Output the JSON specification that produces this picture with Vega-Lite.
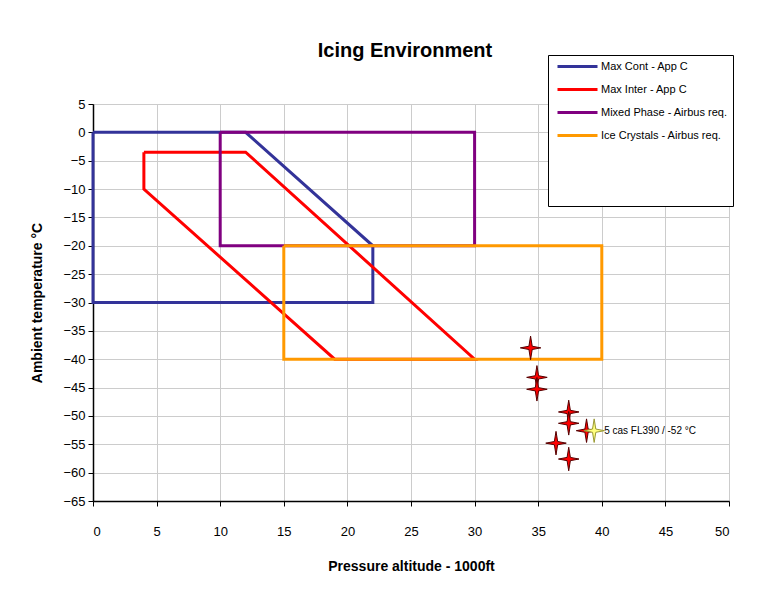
{
  "$schema": "https://vega.github.io/schema/vega-lite/v6.json",
  "width": 636,
  "height": 397,
  "autosize": {"type": "none"},
  "padding": {"left": 93, "top": 104, "right": 35, "bottom": 96},
  "background": "white",
  "title": {
    "text": "Icing Environment",
    "font": "Liberation Sans",
    "fontSize": 20,
    "fontWeight": "bold",
    "color": "#000000",
    "anchor": "middle",
    "offset": -6,
    "dx": -6
  },
  "config": {
    "view": {"stroke": "#333333", "strokeWidth": 1},
    "axis": {
      "labelFont": "Liberation Sans",
      "labelFontSize": 13,
      "labelColor": "#000000",
      "titleFont": "Liberation Sans",
      "titleFontSize": 14,
      "titleFontWeight": "bold",
      "titleColor": "#000000",
      "gridColor": "#cccccc",
      "gridWidth": 1,
      "domainColor": "#000000",
      "domainWidth": 1.5,
      "tickColor": "#000000",
      "tickSize": 5
    },
    "legend": {
      "labelFont": "Liberation Sans",
      "labelFontSize": 11,
      "labelColor": "#000000"
    }
  },
  "datasets": {
    "envelopes": [
      {"series": "Max Cont - App C", "order": 1, "alt": 0, "temp": 0},
      {"series": "Max Cont - App C", "order": 2, "alt": 12, "temp": 0},
      {"series": "Max Cont - App C", "order": 3, "alt": 22, "temp": -20},
      {"series": "Max Cont - App C", "order": 4, "alt": 22, "temp": -30},
      {"series": "Max Cont - App C", "order": 5, "alt": 0, "temp": -30},
      {"series": "Max Cont - App C", "order": 6, "alt": 0, "temp": 0},
      {"series": "Max Inter - App C", "order": 1, "alt": 4, "temp": -3.5},
      {"series": "Max Inter - App C", "order": 2, "alt": 12, "temp": -3.5},
      {"series": "Max Inter - App C", "order": 3, "alt": 30, "temp": -40},
      {"series": "Max Inter - App C", "order": 4, "alt": 19, "temp": -40},
      {"series": "Max Inter - App C", "order": 5, "alt": 4, "temp": -10},
      {"series": "Max Inter - App C", "order": 6, "alt": 4, "temp": -3.5},
      {"series": "Mixed Phase - Airbus req.", "order": 1, "alt": 10, "temp": 0},
      {"series": "Mixed Phase - Airbus req.", "order": 2, "alt": 30, "temp": 0},
      {"series": "Mixed Phase - Airbus req.", "order": 3, "alt": 30, "temp": -20},
      {"series": "Mixed Phase - Airbus req.", "order": 4, "alt": 10, "temp": -20},
      {"series": "Mixed Phase - Airbus req.", "order": 5, "alt": 10, "temp": 0},
      {"series": "Ice Crystals - Airbus req.", "order": 1, "alt": 15, "temp": -20},
      {"series": "Ice Crystals - Airbus req.", "order": 2, "alt": 40, "temp": -20},
      {"series": "Ice Crystals - Airbus req.", "order": 3, "alt": 40, "temp": -40},
      {"series": "Ice Crystals - Airbus req.", "order": 4, "alt": 15, "temp": -40},
      {"series": "Ice Crystals - Airbus req.", "order": 5, "alt": 15, "temp": -20}
    ],
    "events": [
      {"alt": 34.4, "temp": -38},
      {"alt": 34.9, "temp": -43.2},
      {"alt": 34.9, "temp": -45.3},
      {"alt": 37.4, "temp": -49.3},
      {"alt": 37.4, "temp": -51.3},
      {"alt": 38.8, "temp": -52.6},
      {"alt": 36.4, "temp": -54.8},
      {"alt": 37.4, "temp": -57.6}
    ],
    "highlight": [
      {"alt": 39.4, "temp": -52.6, "label": "5 cas FL390 / -52 °C"}
    ]
  },
  "encoding": {
    "x": {
      "field": "alt",
      "type": "quantitative",
      "scale": {"domain": [0, 50], "nice": false, "zero": false},
      "axis": {
        "title": "Pressure altitude - 1000ft",
        "values": [0, 5, 10, 15, 20, 25, 30, 35, 40, 45, 50],
        "labelPadding": 19,
        "titlePadding": 21
      }
    },
    "y": {
      "field": "temp",
      "type": "quantitative",
      "scale": {"domain": [-65, 5], "nice": false, "zero": false},
      "axis": {
        "title": "Ambient temperature °C",
        "values": [5, 0, -5, -10, -15, -20, -25, -30, -35, -40, -45, -50, -55, -60, -65],
        "labelPadding": 3,
        "titlePadding": 18
      }
    }
  },
  "layer": [
    {
      "data": {"name": "envelopes"},
      "mark": {"type": "line", "strokeWidth": 3},
      "encoding": {
        "order": {"field": "order", "type": "quantitative"},
        "color": {
          "field": "series",
          "type": "nominal",
          "scale": {
            "domain": ["Max Cont - App C", "Max Inter - App C", "Mixed Phase - Airbus req.", "Ice Crystals - Airbus req."],
            "range": ["#333399", "#ff0000", "#800080", "#ff9900"]
          },
          "legend": {
            "title": "\u00a0\u00a0\u00a0\u00a0\u00a0\u00a0\u00a0\u00a0\u00a0\u00a0\u00a0\u00a0\u00a0\u00a0\u00a0\u00a0\u00a0\u00a0",
            "titleOrient": "bottom",
            "titleFontSize": 38,
            "titlePadding": 21,
            "orient": "none",
            "legendX": 455,
            "legendY": -49,
            "symbolType": "M-0.4,0H7.6",
            "symbolSize": 100,
            "symbolStrokeWidth": 3,
            "fillColor": "#ffffff",
            "strokeColor": "#000000",
            "padding": 5,
            "labelOffset": 35,
            "rowPadding": 10,
            "labelExpr": "datum.label + '\u00a0\u00a0\u00a0\u00a0\u00a0'"
          }
        }
      }
    },
    {
      "data": {"name": "events"},
      "mark": {
        "type": "point",
        "shape": "M0,-1.15 L0.16,-0.16 L1,0 L0.16,0.16 L0,1.15 L-0.16,0.16 L-1,0 L-0.16,-0.16 Z",
        "filled": true,
        "fill": "#ff0000",
        "stroke": "#550000",
        "strokeWidth": 1,
        "size": 420,
        "opacity": 1
      }
    },
    {
      "data": {"name": "highlight"},
      "mark": {
        "type": "point",
        "shape": "M0,-1.15 L0.16,-0.16 L1,0 L0.16,0.16 L0,1.15 L-0.16,0.16 L-1,0 L-0.16,-0.16 Z",
        "filled": true,
        "fill": "#ffff80",
        "stroke": "#999933",
        "strokeWidth": 1,
        "size": 420,
        "opacity": 1
      }
    },
    {
      "data": {"name": "highlight"},
      "mark": {
        "type": "text",
        "align": "left",
        "baseline": "middle",
        "dx": 10,
        "font": "Liberation Sans",
        "fontSize": 10,
        "color": "#000000"
      },
      "encoding": {"text": {"field": "label"}}
    }
  ]
}
